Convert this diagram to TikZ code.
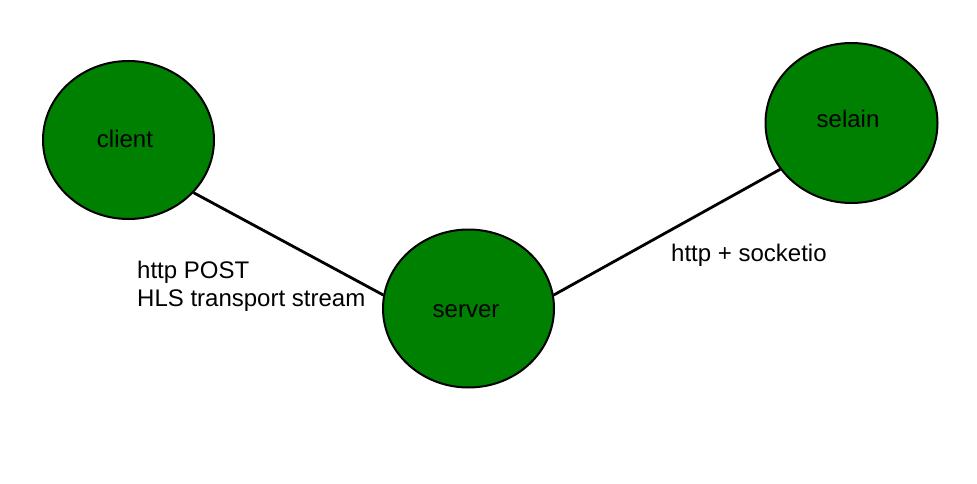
\documentclass[tikz,border=0pt]{standalone}
\usepackage{fontspec}
\setmainfont{Liberation Sans}
\usetikzlibrary{shapes.geometric}
\definecolor{nodegreen}{HTML}{008000}
\begin{document}
\begin{tikzpicture}[x=1pt,y=-1pt,
  blob/.style={ellipse,draw=black,fill=nodegreen,line width=2pt,inner sep=0pt,
    minimum width=171pt,minimum height=158pt},
  txt/.style={inner sep=0pt,font=\fontsize{24}{28}\selectfont},
  edge/.style={line width=2.8pt,draw=black},
  lbl/.style={anchor=west,align=left,inner sep=0pt,font=\fontsize{24}{28}\selectfont}]
\useasboundingbox (0,0) rectangle (977,484);
\fill[white] (0,0) rectangle (977,484);
\node[blob] (client) at (128.5,140) {};
\node[blob] (server) at (468.5,308.5) {};
\node[blob,minimum width=172pt,minimum height=160pt] (selain) at (851.5,123) {};
\node[txt] (tclient) at (125,138.5) {client};
\node[txt] (tserver) at (466,311.5) {server};
\node[txt] (tselain) at (848,119) {selain};
\draw[edge] (client.-39.4) -- (server.171.6);
\draw[edge] (server.9.7) -- (selain.213.1);
\node[lbl] (l1) at (137,286) {http POST\\HLS transport stream};
\node[lbl] (l2) at (671,255) {http + socketio};
\end{tikzpicture}
\end{document}
